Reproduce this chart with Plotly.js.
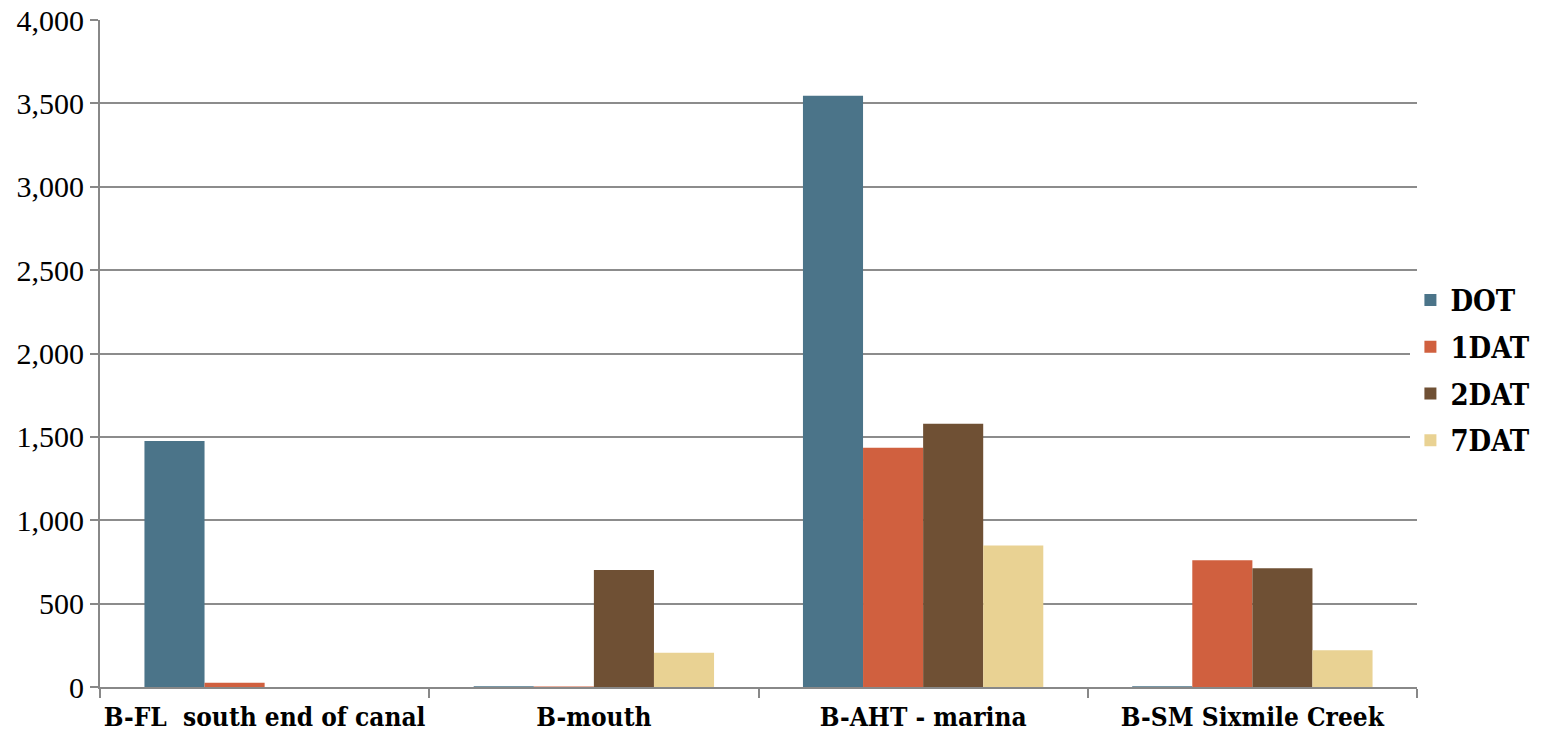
<!DOCTYPE html>
<html>
<head>
<meta charset="utf-8">
<script src="https://cdn.plot.ly/plotly-3.0.1.min.js"></script>
<style>html,body{margin:0;padding:0;background:#fff;}#chart{width:1567px;height:735px;}</style>
</head>
<body>
<div id="chart"></div>
<script>
const categories = ["B-FL  south end of canal", "B-mouth", "B-AHT - marina", "B-SM Sixmile Creek"];
const seriesNames = ["DOT", "1DAT", "2DAT", "7DAT"];
const DOT = [1475, 5, 3545, 5];
const DAT1 = [25, 3, 1435, 760];
const DAT2 = [0, 702, 1578, 712];
const DAT7 = [0, 205, 848, 220];
const yTicks = [0, 500, 1000, 1500, 2000, 2500, 3000, 3500, 4000];

const colors = ["#4b7489", "#d0603f", "#6f5034", "#e9d293"];
const values = [DOT, DAT1, DAT2, DAT7];

const xFont = {family: "DejaVu Serif Condensed", size: 26, color: "#000", weight: "bold"};
const legFont = {family: "DejaVu Serif Condensed", size: 29, color: "#000", weight: "bold"};

const traces = seriesNames.map((n, i) => ({
  type: "bar",
  name: n,
  x: categories,
  y: values[i],
  legendgroup: n,
  marker: {color: colors[i], line: {width: 0}},
  hoverinfo: "x+y+name"
}));

const layout = {
  width: 1567,
  height: 735,
  margin: {l: 100, r: 150, t: 20, b: 48, pad: 0},
  paper_bgcolor: "#fff",
  plot_bgcolor: "#fff",
  font: {family: "Liberation Serif", size: 26, color: "#000"},
  barmode: "group",
  bargap: 0.27,
  bargroupgap: 0,
  showlegend: true,
  legend: {
    x: 0.995, xanchor: "left", y: 0.475, yanchor: "middle",
    font: legFont,
    traceorder: "grouped",
    tracegroupgap: 6,
    itemwidth: 30
  },
  xaxis: {
    type: "category",
    tickson: "boundaries",
    tickangle: 0,
    ticks: "outside",
    ticklen: 9,
    tickwidth: 2,
    tickcolor: "#888",
    showline: true,
    linecolor: "#888",
    linewidth: 2,
    showgrid: false,
    tickfont: xFont,
    ticklabelstandoff: 6,
    automargin: false
  },
  yaxis: {
    range: [0, 4000],
    tickvals: yTicks,
    tickformat: ",d",
    ticks: "outside",
    ticklen: 8,
    tickwidth: 2,
    tickcolor: "#888",
    showline: true,
    linecolor: "#888",
    linewidth: 2,
    showgrid: true,
    gridcolor: "#8c8c8c",
    gridwidth: 2,
    zeroline: false,
    tickfont: {family: "Liberation Serif", size: 30, color: "#000"},
    automargin: false
  }
};

Plotly.newPlot("chart", traces, layout, {displayModeBar: false, staticPlot: true});
</script>
</body>
</html>
